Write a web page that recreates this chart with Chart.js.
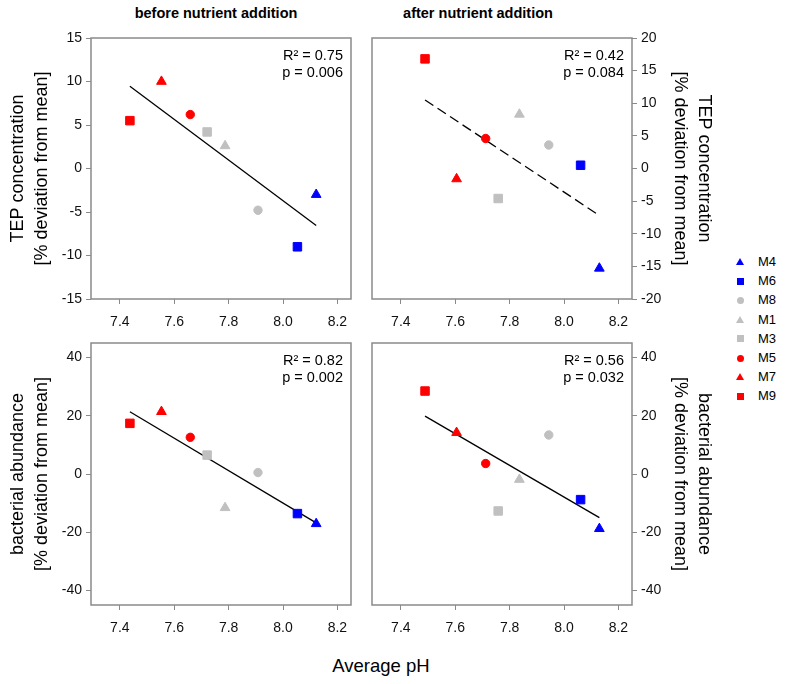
<!DOCTYPE html>
<html>
<head>
<meta charset="utf-8">
<script src="https://cdn.jsdelivr.net/npm/chart.js@4.4.0/dist/chart.umd.min.js"></script>
<style>
  body { margin: 0; background: #fff; font-family: "Liberation Sans", Arial, sans-serif; }
  #wrap { position: relative; width: 789px; height: 684px; overflow: hidden; }
  #wrap canvas { position: absolute; }
  .title { position: absolute; top: 5px; font-weight: bold; font-size: 14.5px; transform: translateX(-50%); white-space: nowrap; color: #000; }
  .xlabel { position: absolute; top: 655px; left: 381px; font-size: 18.5px; transform: translateX(-50%); white-space: nowrap; color: #000; }
  .leg { position: absolute; left: 732px; height: 16px; font-size: 13px; line-height: 16px; color: #000; }
  .leg i { position: absolute; left: 4px; }
  .leg span { position: absolute; left: 26px; }
</style>
</head>
<body>
<div id="wrap">
  <div class="title" style="left:216px">before nutrient addition</div>
  <div class="title" style="left:478px">after nutrient addition</div>
  <canvas id="tepBeforeChart" width="361" height="341" style="left:0;top:0"></canvas>
  <canvas id="tepAfterChart" width="354" height="341" style="left:362px;top:0"></canvas>
  <canvas id="bacBeforeChart" width="361" height="342" style="left:0;top:305px"></canvas>
  <canvas id="bacAfterChart" width="354" height="342" style="left:362px;top:305px"></canvas>
  <div class="xlabel">Average pH</div>
  <div id="legend"></div>
</div>
<script>
// mesocosms in legend order
const mesocosms = ["M4", "M6", "M8", "M1", "M3", "M5", "M7", "M9"];

// average pH (x values)
const phBefore = [8.122, 8.053, 7.908, 7.787, 7.721, 7.659, 7.553, 7.437];
const phAfter = [8.130, 8.061, 7.944, 7.836, 7.758, 7.712, 7.605, 7.489];

// % deviation from mean
const tepBefore = [-3.0, -9.0, -4.8, 2.6, 4.2, 6.2, 10.0, 5.5];
const tepAfter = [-15.3, 0.5, 3.6, 8.3, -4.6, 4.6, -1.6, 16.8];
const bacBefore = [-17.1, -13.6, 0.5, -11.6, 6.5, 12.6, 21.4, 17.4];
const bacAfter = [-18.8, -8.8, 13.4, -1.9, -12.7, 3.6, 14.2, 28.5];

// regression line end points
const fitXBefore = [7.437, 8.122];
const fitXAfter = [7.489, 8.130];
const fitTepBefore = [9.46, -6.55];
const fitTepAfter = [10.5, -7.2];
const fitBacBefore = [21.4, -16.8];
const fitBacAfter = [19.9, -15.0];

// statistics
const statsTepBefore = ["R\u00b2 = 0.75", "p = 0.006"];
const statsTepAfter = ["R\u00b2 = 0.42", "p = 0.084"];
const statsBacBefore = ["R\u00b2 = 0.82", "p = 0.002"];
const statsBacAfter = ["R\u00b2 = 0.56", "p = 0.032"];

// tick labels
const phTicks = [7.4, 7.6, 7.8, 8.0, 8.2];
const tepBeforeTicks = [-15, -10, -5, 0, 5, 10, 15];
const tepAfterTicks = [-20, -15, -10, -5, 0, 5, 10, 15, 20];
const bacTicks = [-40, -20, 0, 20, 40];

const colors = ["#0000ff", "#0000ff", "#c0c0c0", "#c0c0c0", "#c0c0c0", "#ff0000", "#ff0000", "#ff0000"];
const shapes = ["triangle", "rect", "circle", "triangle", "rect", "circle", "triangle", "rect"];
const radius = { triangle: 5.6, rect: 6, circle: 4.2 };

const FONT = "'Liberation Sans', Arial, sans-serif";
const FRAME = "#8a8a8a";

// grey box around the plot area + R²/p text
const framePlugin = {
  id: "frame",
  afterDatasetsDraw(chart, args, opts) {
    const { ctx, chartArea: a } = chart;
    ctx.save();
    ctx.strokeStyle = FRAME;
    ctx.lineWidth = 1.5;
    ctx.strokeRect(a.left, a.top, a.right - a.left, a.bottom - a.top);
    ctx.fillStyle = "#000";
    ctx.font = "14.5px " + FONT;
    ctx.textAlign = "right";
    ctx.textBaseline = "middle";
    opts.lines.forEach((t, i) => ctx.fillText(t, a.right - 8, a.top + 18 + i * 16.5));
    ctx.restore();
  },
};

function makePanel(id, xs, ys, fitX, fitY, stats, yTicks, yMin, yMax, side, title, dashed) {
  const datasets = mesocosms.map((m, i) => ({
    label: m,
    data: [{ x: xs[i], y: ys[i] }],
    pointStyle: shapes[i],
    pointRadius: radius[shapes[i]],
    backgroundColor: colors[i],
    borderColor: colors[i],
    borderWidth: 1,
    showLine: false,
  }));
  datasets.push({
    label: "fit",
    data: [{ x: fitX[0], y: fitY[0] }, { x: fitX[1], y: fitY[1] }],
    showLine: true,
    pointRadius: 0,
    borderColor: "#000",
    borderWidth: 1.3,
    borderDash: dashed ? [10, 5] : [],
  });

  new Chart(document.getElementById(id), {
    type: "scatter",
    data: { datasets },
    plugins: [framePlugin],
    options: {
      responsive: false,
      animation: false,
      events: [],
      layout: { padding: side === "left" ? { top: 38, right: 10 } : { top: 38, left: 10 } },
      plugins: { legend: { display: false }, tooltip: { enabled: false }, frame: { lines: stats } },
      scales: {
        x: {
          type: "linear",
          min: 7.294,
          max: 8.25,
          afterFit: (s) => { s.height = 42; },
          afterBuildTicks: (s) => { s.ticks = phTicks.map((v) => ({ value: v })); },
          ticks: { font: { size: 14, family: FONT }, color: "#111", padding: 10, maxRotation: 0, callback: (v) => v.toFixed(1) },
          grid: { drawOnChartArea: false, drawTicks: true, tickLength: 5, color: FRAME },
          border: { display: false },
        },
        y: {
          type: "linear",
          position: side,
          min: yMin,
          max: yMax,
          afterFit: (s) => { s.width = side === "left" ? 91 : 84; },
          afterBuildTicks: (s) => { s.ticks = yTicks.map((v) => ({ value: v })); },
          ticks: { font: { size: 14, family: FONT }, color: "#111", padding: 4 },
          grid: { drawOnChartArea: false, drawTicks: true, tickLength: 5, color: FRAME },
          border: { display: false },
          title: {
            display: true,
            text: title,
            color: "#000",
            font: { size: 18, family: FONT, lineHeight: 1.33 },
            padding: { top: side === "left" ? 6 : 0, bottom: 0 },
          },
        },
      },
    },
  });
}

const tepTitle = ["TEP concentration", "[% deviation from mean]"];
const bacTitle = ["bacterial abundance", "[% deviation from mean]"];

makePanel("tepBeforeChart", phBefore, tepBefore, fitXBefore, fitTepBefore, statsTepBefore, tepBeforeTicks, -15, 15, "left", tepTitle, false);
makePanel("tepAfterChart", phAfter, tepAfter, fitXAfter, fitTepAfter, statsTepAfter, tepAfterTicks, -20, 20, "right", tepTitle, true);
makePanel("bacBeforeChart", phBefore, bacBefore, fitXBefore, fitBacBefore, statsBacBefore, bacTicks, -45, 45, "left", bacTitle, false);
makePanel("bacAfterChart", phAfter, bacAfter, fitXAfter, fitBacAfter, statsBacAfter, bacTicks, -45, 45, "right", bacTitle, false);

// legend
const legend = document.getElementById("legend");
mesocosms.forEach((m, i) => {
  const row = document.createElement("div");
  row.className = "leg";
  row.style.top = (254 + i * 19.2) + "px";
  const mark = document.createElement("i");
  if (shapes[i] === "triangle") {
    mark.style.cssText = "top:4px;width:0;height:0;border-left:4px solid transparent;border-right:4px solid transparent;border-bottom:7px solid " + colors[i];
  } else if (shapes[i] === "rect") {
    mark.style.cssText = "top:4.5px;left:4.5px;width:7px;height:7px;background:" + colors[i];
  } else {
    mark.style.cssText = "top:4.5px;left:4.5px;width:7px;height:7px;border-radius:50%;background:" + colors[i];
  }
  const txt = document.createElement("span");
  txt.textContent = m;
  row.appendChild(mark);
  row.appendChild(txt);
  legend.appendChild(row);
});
</script>
</body>
</html>
